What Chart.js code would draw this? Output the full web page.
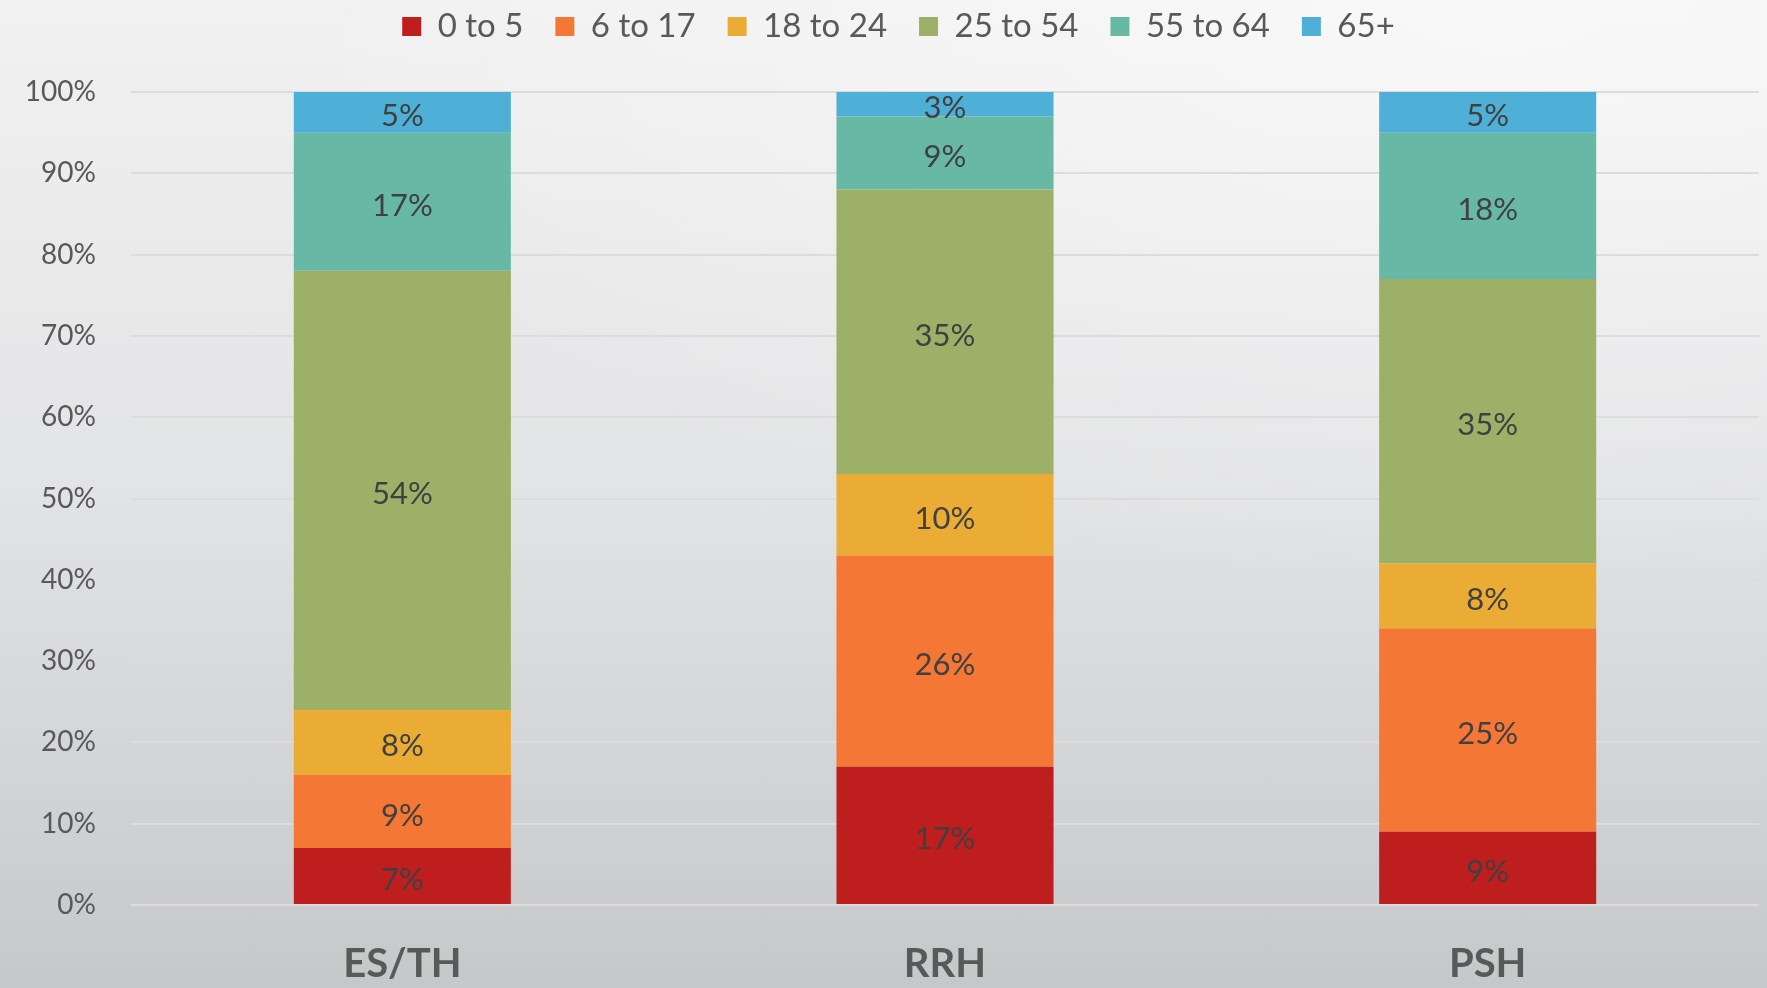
<!DOCTYPE html>
<html>
<head>
<meta charset="utf-8">
<script src="https://cdn.jsdelivr.net/npm/chart.js@4/dist/chart.umd.min.js"></script>
<style>
  html, body { margin: 0; padding: 0; overflow: hidden; }
  body {
    width: 1767px; height: 988px;
    background:
      radial-gradient(ellipse 70% 60% at 85% 0%, rgba(255,255,255,0.55), rgba(255,255,255,0) 100%),
      linear-gradient(to bottom, #f1f1f1 0%, #e2e3e4 50%, #c5c8c9 100%);
  }
  canvas { display: block; }
</style>
</head>
<body>
<canvas id="ages" width="1767" height="988"></canvas>
<script>
const categories = ["ES/TH", "RRH", "PSH"];
const ageGroups = ["0 to 5", "6 to 17", "18 to 24", "25 to 54", "55 to 64", "65+"];
const age0to5 = [7, 17, 9];
const age6to17 = [9, 26, 25];
const age18to24 = [8, 10, 8];
const age25to54 = [54, 35, 35];
const age55to64 = [17, 9, 18];
const age65plus = [5, 3, 5];
const yTicks = [0, 10, 20, 30, 40, 50, 60, 70, 80, 90, 100];

const seriesValues = [age0to5, age6to17, age18to24, age25to54, age55to64, age65plus];
const colors = ["#be1e1e", "#f47735", "#eaac35", "#9cb068", "#67b9a6", "#4eb0d6"];

// value labels in the middle of each stacked segment
const segmentLabels = {
  id: "segmentLabels",
  afterDatasetsDraw(chart) {
    const ctx = chart.ctx;
    ctx.save();
    ctx.font = "31px Lato";
    ctx.fillStyle = "#404040";
    ctx.textAlign = "center";
    ctx.textBaseline = "middle";
    chart.data.datasets.forEach((ds, i) => {
      chart.getDatasetMeta(i).data.forEach((bar, j) => {
        ctx.fillText(ds.data[j] + "%", bar.x, (bar.y + bar.base) / 2 + 4);
      });
    });
    ctx.restore();
  }
};

// fixed legend band height, legend nudged a bit to the right
const legendBox = {
  id: "legendBox",
  beforeInit(chart) {
    const fit = chart.legend.fit;
    chart.legend.fit = function () {
      fit.call(this);
      this.height = 114;
    };
  },
  afterLayout(chart) {
    chart.legend.left += 19;
    chart.legend.right += 19;
  }
};

new Chart(document.getElementById("ages"), {
  type: "bar",
  data: {
    labels: categories,
    datasets: ageGroups.map((name, i) => ({
      label: name,
      data: seriesValues[i],
      backgroundColor: colors[i],
      borderWidth: 0,
      barPercentage: 0.4,
      categoryPercentage: 1
    }))
  },
  options: {
    responsive: false,
    animation: false,
    layout: { padding: { top: -22, right: 8, left: 0, bottom: 0 } },
    plugins: {
      tooltip: { enabled: false },
      legend: {
        position: "top",
        labels: {
          boxWidth: 19,
          boxHeight: 19,
          padding: 32,
          color: "#595959",
          font: { family: "Lato", size: 33 }
        }
      }
    },
    scales: {
      x: {
        stacked: true,
        grid: { display: false },
        border: { display: false },
        ticks: {
          color: "#595959",
          padding: 27,
          font: { family: "Lato", size: 40, weight: "bold" }
        },
        afterFit(scale) { scale.height = 83; }
      },
      y: {
        stacked: true,
        min: 0,
        max: 100,
        afterBuildTicks(scale) { scale.ticks = yTicks.map(v => ({ value: v })); },
        grid: { color: "#dcdcdc", lineWidth: 2, drawTicks: false },
        border: { display: false },
        ticks: {
          color: "#595959",
          padding: 35,
          font: { family: "Lato", size: 28 },
          callback: v => v + "%"
        },
        afterFit(scale) { scale.width = 131; }
      }
    }
  },
  plugins: [legendBox, segmentLabels]
});
</script>
</body>
</html>
